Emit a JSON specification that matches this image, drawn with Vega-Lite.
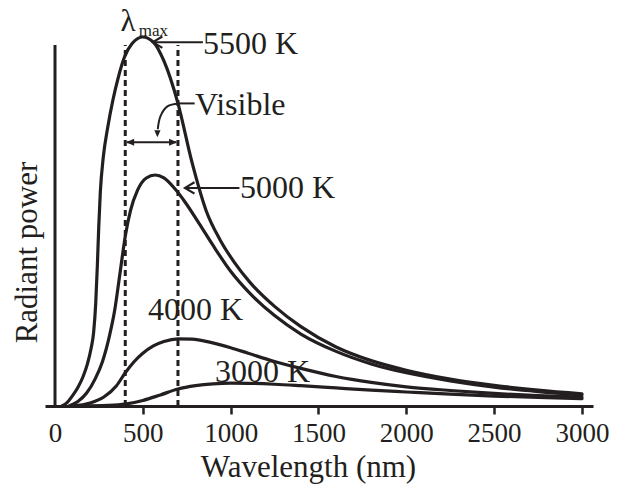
{
  "$schema": "https://vega.github.io/schema/vega-lite/v6.json",
  "width": 548,
  "height": 369,
  "autosize": {"type": "none"},
  "padding": {"left": 45, "top": 37, "right": 29, "bottom": 90},
  "background": "white",
  "config": {"view": {"stroke": null}, "font": "Liberation Serif"},
  "datasets": {
    "curves": [
      {"T": "5500 K", "wl": 40, "p": 0}, {"T": "5500 K", "wl": 70, "p": 1}, {"T": "5500 K", "wl": 100, "p": 2.8}, {"T": "5500 K", "wl": 130, "p": 5}, {"T": "5500 K", "wl": 160, "p": 8}, {"T": "5500 K", "wl": 185, "p": 11.5}, {"T": "5500 K", "wl": 205, "p": 15.5}, {"T": "5500 K", "wl": 220, "p": 20}, {"T": "5500 K", "wl": 232, "p": 28}, {"T": "5500 K", "wl": 241, "p": 38}, {"T": "5500 K", "wl": 249, "p": 48.5}, {"T": "5500 K", "wl": 258, "p": 58}, {"T": "5500 K", "wl": 275, "p": 67.5}, {"T": "5500 K", "wl": 300, "p": 75.5}, {"T": "5500 K", "wl": 330, "p": 83}, {"T": "5500 K", "wl": 360, "p": 89}, {"T": "5500 K", "wl": 395, "p": 94.5}, {"T": "5500 K", "wl": 440, "p": 98.3}, {"T": "5500 K", "wl": 500, "p": 100}, {"T": "5500 K", "wl": 560, "p": 98.6}, {"T": "5500 K", "wl": 620, "p": 93.5}, {"T": "5500 K", "wl": 700, "p": 82}, {"T": "5500 K", "wl": 780, "p": 66}, {"T": "5500 K", "wl": 860, "p": 53}, {"T": "5500 K", "wl": 940, "p": 45}, {"T": "5500 K", "wl": 1020, "p": 39}, {"T": "5500 K", "wl": 1110, "p": 33.5}, {"T": "5500 K", "wl": 1250, "p": 27}, {"T": "5500 K", "wl": 1400, "p": 21.5}, {"T": "5500 K", "wl": 1600, "p": 16}, {"T": "5500 K", "wl": 1800, "p": 12.3}, {"T": "5500 K", "wl": 2000, "p": 9.7}, {"T": "5500 K", "wl": 2250, "p": 7.3}, {"T": "5500 K", "wl": 2500, "p": 5.6}, {"T": "5500 K", "wl": 2750, "p": 4.3}, {"T": "5500 K", "wl": 3000, "p": 3.3},
      {"T": "5000 K", "wl": 80, "p": 0}, {"T": "5000 K", "wl": 130, "p": 1.2}, {"T": "5000 K", "wl": 180, "p": 3.5}, {"T": "5000 K", "wl": 230, "p": 7.5}, {"T": "5000 K", "wl": 270, "p": 12}, {"T": "5000 K", "wl": 310, "p": 19}, {"T": "5000 K", "wl": 340, "p": 26}, {"T": "5000 K", "wl": 370, "p": 36}, {"T": "5000 K", "wl": 400, "p": 46}, {"T": "5000 K", "wl": 430, "p": 53}, {"T": "5000 K", "wl": 470, "p": 58.5}, {"T": "5000 K", "wl": 520, "p": 61.8}, {"T": "5000 K", "wl": 570, "p": 62.6}, {"T": "5000 K", "wl": 620, "p": 61.8}, {"T": "5000 K", "wl": 680, "p": 59}, {"T": "5000 K", "wl": 740, "p": 55.3}, {"T": "5000 K", "wl": 820, "p": 49.5}, {"T": "5000 K", "wl": 900, "p": 43.5}, {"T": "5000 K", "wl": 1000, "p": 36.5}, {"T": "5000 K", "wl": 1110, "p": 30.5}, {"T": "5000 K", "wl": 1250, "p": 24.5}, {"T": "5000 K", "wl": 1400, "p": 19.5}, {"T": "5000 K", "wl": 1600, "p": 14.8}, {"T": "5000 K", "wl": 1800, "p": 11.4}, {"T": "5000 K", "wl": 2000, "p": 9}, {"T": "5000 K", "wl": 2250, "p": 6.8}, {"T": "5000 K", "wl": 2500, "p": 5.1}, {"T": "5000 K", "wl": 2750, "p": 3.9}, {"T": "5000 K", "wl": 3000, "p": 3.0},
      {"T": "4000 K", "wl": 100, "p": 0}, {"T": "4000 K", "wl": 200, "p": 0.8}, {"T": "4000 K", "wl": 280, "p": 2.5}, {"T": "4000 K", "wl": 350, "p": 5.5}, {"T": "4000 K", "wl": 400, "p": 9}, {"T": "4000 K", "wl": 450, "p": 12}, {"T": "4000 K", "wl": 500, "p": 14.3}, {"T": "4000 K", "wl": 560, "p": 16.3}, {"T": "4000 K", "wl": 620, "p": 17.5}, {"T": "4000 K", "wl": 700, "p": 18.2}, {"T": "4000 K", "wl": 780, "p": 18.1}, {"T": "4000 K", "wl": 880, "p": 17.3}, {"T": "4000 K", "wl": 1000, "p": 15.8}, {"T": "4000 K", "wl": 1100, "p": 14.3}, {"T": "4000 K", "wl": 1240, "p": 12.2}, {"T": "4000 K", "wl": 1400, "p": 10.2}, {"T": "4000 K", "wl": 1600, "p": 8}, {"T": "4000 K", "wl": 1800, "p": 6.4}, {"T": "4000 K", "wl": 2000, "p": 5.2}, {"T": "4000 K", "wl": 2250, "p": 4.2}, {"T": "4000 K", "wl": 2500, "p": 3.4}, {"T": "4000 K", "wl": 2750, "p": 2.8}, {"T": "4000 K", "wl": 3000, "p": 2.4},
      {"T": "3000 K", "wl": 150, "p": 0}, {"T": "3000 K", "wl": 300, "p": 0.15}, {"T": "3000 K", "wl": 400, "p": 0.5}, {"T": "3000 K", "wl": 500, "p": 1.5}, {"T": "3000 K", "wl": 600, "p": 3}, {"T": "3000 K", "wl": 700, "p": 4.6}, {"T": "3000 K", "wl": 800, "p": 5.5}, {"T": "3000 K", "wl": 900, "p": 6}, {"T": "3000 K", "wl": 1000, "p": 6.2}, {"T": "3000 K", "wl": 1100, "p": 6.15}, {"T": "3000 K", "wl": 1250, "p": 5.9}, {"T": "3000 K", "wl": 1400, "p": 5.5}, {"T": "3000 K", "wl": 1600, "p": 4.9}, {"T": "3000 K", "wl": 1800, "p": 4.3}, {"T": "3000 K", "wl": 2000, "p": 3.8}, {"T": "3000 K", "wl": 2250, "p": 3.2}, {"T": "3000 K", "wl": 2500, "p": 2.7}, {"T": "3000 K", "wl": 2750, "p": 2.3}, {"T": "3000 K", "wl": 3000, "p": 2.0}
    ],
    "labels": [
      {"wl": 842, "p": 98.1, "text": "5500 K"},
      {"wl": 797, "p": 81.6, "text": "Visible"},
      {"wl": 1053, "p": 59.1, "text": "5000 K"},
      {"wl": 529, "p": 26, "text": "4000 K"},
      {"wl": 911, "p": 9.2, "text": "3000 K"}
    ],
    "visband": [
      {"wl": 400, "p": 0, "p2": 97.8},
      {"wl": 700, "p": 0, "p2": 97.8}
    ],
    "yaxisline": [{"wl": 0, "p": 0, "p2": 97.8}],
    "hlines": [
      {"wl": 560, "wl2": 842, "p": 98.6},
      {"wl": 742, "wl2": 1050, "p": 59.1},
      {"wl": 700, "wl2": 795, "p": 82},
      {"wl": 410, "wl2": 690, "p": 71.5}
    ],
    "curvedarrow": [
      {"o": 1, "wl": 705, "p": 82},
      {"o": 2, "wl": 640, "p": 81.2},
      {"o": 3, "wl": 600, "p": 78.5},
      {"o": 4, "wl": 585, "p": 75}
    ]
  },
  "encoding": {
    "x": {"field": "wl", "type": "quantitative",
      "scale": {"domain": [-57, 3063], "nice": false, "zero": false},
      "axis": {"values": [0, 500, 1000, 1500, 2000, 2500, 3000], "format": "d", "domainColor": "#231f20", "domainWidth": 3,
        "tickColor": "#231f20", "tickWidth": 2.5, "tickSize": 8, "tickOpacity": {"expr": "datum.value == 0 ? 0 : 1"},
        "labelFont": "Liberation Serif", "labelFontSize": 27, "labelColor": "#231f20", "labelPadding": 6, "labelFlush": false,
        "grid": false, "title": "Wavelength (nm)", "titleFont": "Liberation Serif", "titleFontSize": 31, "titleFontWeight": "normal",
        "titleColor": "#231f20", "titleX": 263, "titleY": 61, "titleAlign": "center", "titleBaseline": "middle"}},
    "y": {"field": "p", "type": "quantitative",
      "scale": {"domain": [0, 100], "nice": false, "zero": false},
      "axis": {"domain": false, "ticks": false, "labels": false, "grid": false, "title": "Radiant power",
        "titleFont": "Liberation Serif", "titleFontSize": 31, "titleFontWeight": "normal", "titleColor": "#231f20",
        "titleX": -18, "titleY": 215, "titleAlign": "center", "titleBaseline": "middle", "titleAngle": -90}}
  },
  "layer": [
    {"data": {"name": "labels"}, "mark": {"type": "text", "font": "Liberation Serif", "fontSize": 32, "color": "#231f20", "align": "left", "baseline": "middle"},
      "encoding": {"text": {"field": "text"}}},
    {"data": {"values": [{"wl": 415, "p": 104, "text": "λ"}]}, "mark": {"type": "text", "font": "Liberation Serif", "fontSize": 31, "color": "#231f20", "align": "center", "baseline": "middle"},
      "encoding": {"text": {"field": "text"}}},
    {"data": {"values": [{"wl": 560, "p": 101.6, "text": "max"}]}, "mark": {"type": "text", "font": "Liberation Serif", "fontSize": 17, "color": "#231f20", "align": "center", "baseline": "middle"},
      "encoding": {"text": {"field": "text"}}},
    {"data": {"name": "visband"}, "mark": {"type": "rule", "color": "#231f20", "strokeWidth": 3, "strokeDash": [6, 4]},
      "encoding": {"y2": {"field": "p2"}}},
    {"data": {"name": "yaxisline"}, "mark": {"type": "rule", "color": "#231f20", "strokeWidth": 3},
      "encoding": {"y2": {"field": "p2"}}},
    {"data": {"name": "curves"}, "mark": {"type": "line", "color": "#231f20", "strokeWidth": 3.2, "interpolate": "monotone", "strokeCap": "round"},
      "encoding": {"detail": {"field": "T"}}},
    {"data": {"name": "hlines"}, "mark": {"type": "rule", "color": "#231f20", "strokeWidth": 2},
      "encoding": {"x2": {"field": "wl2"}}},
    {"data": {"name": "curvedarrow"}, "mark": {"type": "line", "color": "#231f20", "strokeWidth": 2, "interpolate": "cardinal"},
      "encoding": {"order": {"field": "o"}}},
    {"data": {"values": [{"wl": 557, "p": 98.6}, {"wl": 740, "p": 59.1}]},
      "mark": {"type": "point", "shape": "M 1 -0.6 L 0 0 L 1 0.6", "filled": false, "color": "#231f20", "strokeWidth": 2.2, "size": 360, "opacity": 1}},
    {"data": {"values": [{"wl": 405, "p": 71.5}]},
      "mark": {"type": "point", "shape": "M 0 0 L 1.6 -0.7 L 1.6 0.7 Z", "filled": true, "color": "#231f20", "size": 100, "opacity": 1}},
    {"data": {"values": [{"wl": 695, "p": 71.5}]},
      "mark": {"type": "point", "shape": "M 0 0 L -1.6 -0.7 L -1.6 0.7 Z", "filled": true, "color": "#231f20", "size": 100, "opacity": 1}},
    {"data": {"values": [{"wl": 583, "p": 72.8}]},
      "mark": {"type": "point", "shape": "M 0 0 L -0.7 -1.6 L 0.7 -1.6 Z", "filled": true, "color": "#231f20", "size": 80, "opacity": 1}}
  ]
}
